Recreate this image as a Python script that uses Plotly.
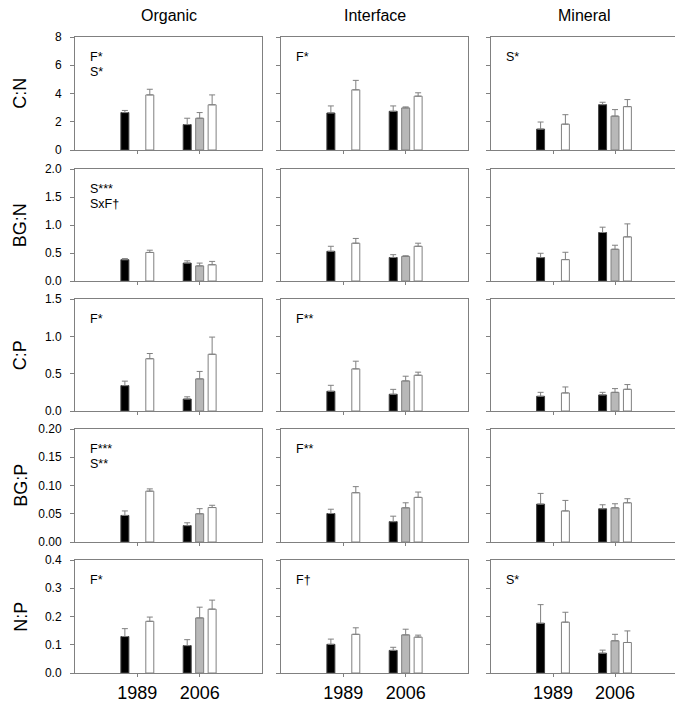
import plotly.graph_objects as go

# page is drawn at an 8px body offset; size the figure to fit the window
OFF = 8
W, H = 683 - OFF, 712 - 2 * OFF

years = ["1989", "2006"]
horizons = ["Organic", "Interface", "Mineral"]
ratios = ["C:N", "BG:N", "C:P", "BG:P", "N:P"]

# values per horizon (Organic, Interface, Mineral), each [1989, 2006]
cn_black = [[2.65, 1.80], [2.62, 2.74], [1.48, 3.21]]
cn_black_se = [[0.15, 0.45], [0.50, 0.38], [0.50, 0.17]]
cn_gray = [[None, 2.25], [None, 2.98], [None, 2.40]]
cn_gray_se = [[None, 0.40], [None, 0.07], [None, 0.46]]
cn_white = [[3.90, 3.20], [4.26, 3.81], [1.83, 3.07]]
cn_white_se = [[0.40, 0.70], [0.67, 0.24], [0.67, 0.50]]

bgn_black = [[0.38, 0.32], [0.53, 0.42], [0.418, 0.866]]
bgn_black_se = [[0.02, 0.04], [0.09, 0.05], [0.077, 0.095]]
bgn_gray = [[None, 0.27], [None, 0.44], [None, 0.567]]
bgn_gray_se = [[None, 0.05], [None, 0.01], [None, 0.072]]
bgn_white = [[0.51, 0.29], [0.675, 0.62], [0.382, 0.788]]
bgn_white_se = [[0.04, 0.06], [0.085, 0.055], [0.131, 0.232]]

cp_black = [[0.34, 0.16], [0.264, 0.224], [0.197, 0.215]]
cp_black_se = [[0.06, 0.03], [0.08, 0.066], [0.053, 0.035]]
cp_gray = [[None, 0.43], [None, 0.403], [None, 0.25]]
cp_gray_se = [[None, 0.10], [None, 0.063], [None, 0.05]]
cp_white = [[0.70, 0.76], [0.564, 0.479], [0.242, 0.291]]
cp_white_se = [[0.07, 0.23], [0.103, 0.041], [0.08, 0.063]]

bgp_black = [[0.047, 0.029], [0.0504, 0.036], [0.067, 0.0588]]
bgp_black_se = [[0.008, 0.005], [0.0076, 0.0097], [0.019, 0.0071]]
bgp_gray = [[None, 0.050], [None, 0.0605], [None, 0.0605]]
bgp_gray_se = [[None, 0.009], [None, 0.0089], [None, 0.0072]]
bgp_white = [[0.090, 0.061], [0.0872, 0.079], [0.055, 0.0694]]
bgp_white_se = [[0.004, 0.004], [0.0108, 0.0094], [0.0186, 0.0072]]

np_black = [[0.129, 0.097], [0.1015, 0.080], [0.176, 0.070]]
np_black_se = [[0.028, 0.021], [0.0185, 0.011], [0.066, 0.011]]
np_gray = [[None, 0.195], [None, 0.135], [None, 0.114]]
np_gray_se = [[None, 0.038], [None, 0.020], [None, 0.023]]
np_white = [[0.183, 0.226], [0.137, 0.127], [0.180, 0.108]]
np_white_se = [[0.015, 0.032], [0.023, 0.007], [0.035, 0.041]]

stats_organic = [["F*", "S*"], ["S***", "SxF†"], ["F*"], ["F***", "S**"], ["F*"]]
stats_interface = [["F*"], [], ["F**"], ["F**"], ["F†"]]
stats_mineral = [["S*"], [], [], [], ["S*"]]

y_ranges = [[0, 8], [0, 2.0], [0, 1.5], [0, 0.20], [0, 0.4]]
y_dticks = [2, 0.5, 0.5, 0.05, 0.1]
y_formats = ["d", ".1f", ".1f", ".2f", ".1f"]

data = [
    (cn_black, cn_black_se, cn_gray, cn_gray_se, cn_white, cn_white_se),
    (bgn_black, bgn_black_se, bgn_gray, bgn_gray_se, bgn_white, bgn_white_se),
    (cp_black, cp_black_se, cp_gray, cp_gray_se, cp_white, cp_white_se),
    (bgp_black, bgp_black_se, bgp_gray, bgp_gray_se, bgp_white, bgp_white_se),
    (np_black, np_black_se, np_gray, np_gray_se, np_white, np_white_se),
]
stats = [stats_organic, stats_interface, stats_mineral]

# layout geometry (window pixels)
col_px = [(75, 262), (281, 468), (491, 677)]
row_px = [(37, 150), (169, 281), (299, 411), (429, 542), (560, 673)]


def px_x(p):
    return (p - OFF) / W


def px_y(p):
    return 1 - (p - OFF) / H


AX = "#808080"
FONT = "Arial, Liberation Sans, sans-serif"
x_pos = [1, 2]

fig = go.Figure()
layout = {}
annotations = []

for r in range(5):
    for c in range(3):
        i = r * 3 + c + 1
        xa = "x" if i == 1 else f"x{i}"
        ya = "y" if i == 1 else f"y{i}"
        b, bse, g, gse, w, wse = data[r]
        series = [
            (b[c], bse[c], "black", "#404040"),
            (g[c], gse[c], "#b8b8b8", AX),
            (w[c], wse[c], "white", AX),
        ]
        for vals, errs, fill, edge in series:
            fig.add_trace(go.Bar(
                x=x_pos, y=vals, xaxis=xa, yaxis=ya,
                marker=dict(color=fill, line=dict(color=edge, width=1)),
                error_y=dict(type="data", array=errs, symmetric=False,
                             arrayminus=[0, 0], color=AX, thickness=1, width=3),
                showlegend=False, hoverinfo="skip",
            ))
        x0, x1 = col_px[c]
        y0, y1 = row_px[r]
        xkey = "xaxis" if i == 1 else f"xaxis{i}"
        ykey = "yaxis" if i == 1 else f"yaxis{i}"
        layout[xkey] = dict(
            domain=[px_x(x0), px_x(x1)], range=[0, 3], anchor=ya,
            tickvals=x_pos, ticktext=years, showticklabels=(r == 4),
            ticks="outside", ticklen=3, tickcolor=AX,
            showline=True, linecolor=AX, linewidth=1, mirror=True,
            showgrid=False, zeroline=False, automargin=False,
            tickfont=dict(size=18, color="black", family=FONT),
        )
        layout[ykey] = dict(
            domain=[px_y(y1), px_y(y0)], range=y_ranges[r], anchor=xa,
            dtick=y_dticks[r], tick0=0, tickformat=y_formats[r],
            showticklabels=(c == 0),
            ticks="outside", ticklen=4, tickcolor=AX,
            showline=True, linecolor=AX, linewidth=1, mirror=True,
            showgrid=False, zeroline=False, automargin=False,
            tickfont=dict(size=12, color="black", family=FONT),
            ticklabelstandoff=6,
        )
        for k, txt in enumerate(stats[c][r]):
            annotations.append(dict(
                text=txt, xref=f"{xa} domain", yref=f"{ya} domain",
                x=0.075, y=1 - (20 + 15 * k) / (y1 - y0),
                xanchor="left", yanchor="middle", showarrow=False,
                borderpad=0,
                font=dict(size=12.5, color="black", family=FONT),
            ))

for c, name in enumerate(horizons):
    x0, x1 = col_px[c]
    annotations.append(dict(
        text=name, xref="paper", yref="paper",
        x=px_x((x0 + x1) / 2), y=px_y(15), xanchor="center", yanchor="middle",
        showarrow=False, font=dict(size=16, color="black", family=FONT),
    ))

for r, name in enumerate(ratios):
    y0, y1 = row_px[r]
    annotations.append(dict(
        text=name, xref="paper", yref="paper",
        x=0.002, y=px_y((y0 + y1) / 2), xanchor="left", yanchor="middle",
        textangle=-90, showarrow=False, borderpad=0,
        font=dict(size=18, color="black", family=FONT),
    ))

fig.update_layout(
    width=W, height=H, margin=dict(l=0, r=0, t=0, b=0),
    paper_bgcolor="white", plot_bgcolor="white",
    barmode="group", bargap=0.4, bargroupgap=0.36,
    annotations=annotations, **layout,
)

fig.write_html("out.html")
